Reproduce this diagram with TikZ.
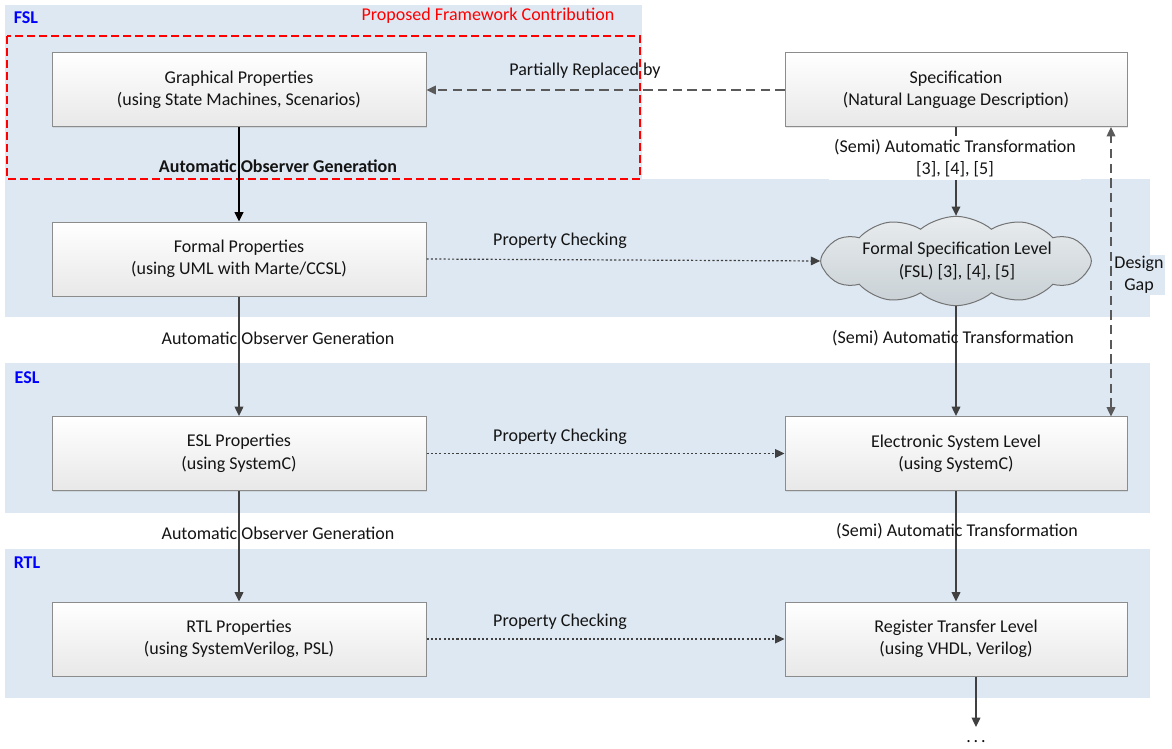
\documentclass[tikz,border=0pt]{standalone}
\usepackage{fontspec}
\setmainfont{Carlito}
\usetikzlibrary{arrows.meta,shapes.symbols,shadows}
\definecolor{bandc}{RGB}{222,232,242}
\definecolor{linec}{RGB}{64,64,64}
\definecolor{boxborder}{RGB}{140,140,140}
\definecolor{dashc}{RGB}{90,90,90}
\definecolor{cloudtop}{RGB}{232,236,238}
\definecolor{cloudbot}{RGB}{200,208,213}
\definecolor{txt}{RGB}{20,20,20}
\newcommand\myfs{\fontsize{13.5}{16.8}\selectfont}
\tikzset{
  band/.style={fill=bandc, draw=none},
  lvl/.style={text=blue, font=\myfs\bfseries, anchor=center},
  pbox/.style={draw=boxborder, line width=0.75pt, top color=white, bottom color=black!9,
     minimum height=55.5pt, inner sep=0pt, align=center, text=txt,
     font=\myfs, drop shadow={opacity=0.18, shadow xshift=1pt, shadow yshift=-1pt}},
  lbox/.style={pbox, minimum width=280.5pt},
  rbox/.style={pbox, minimum width=256.5pt},
  cloudn/.style={cloud, cloud puffs=12, cloud puff arc=80, cloud ignores aspect, draw=black!55, line width=0.75pt,
     top color=cloudtop, bottom color=cloudbot, minimum width=203pt, minimum height=67pt, inner sep=0pt},
  solidarr/.style={draw=linec, line width=1pt, -{Triangle[length=7pt,width=6.5pt]}},
  blackarr/.style={draw=black, line width=1.1pt, -{Triangle[length=7pt,width=6.5pt]}},
  dotarr/.style={draw=linec, line width=0.9pt, dash pattern=on 1.6pt off 1.6pt, -{Triangle[length=7pt,width=6.5pt]}},
  dasharr/.style={draw=dashc, line width=1pt, dash pattern=on 7pt off 4pt, -{Triangle[length=7pt,width=6.5pt]}},
  lab/.style={text=txt, inner sep=1pt, align=center, font=\myfs},
}
\begin{document}
\begin{tikzpicture}[x=0.75pt, y=-0.75pt, font=\myfs]
\useasboundingbox (0,0) rectangle (1172,749);
\fill[white] (0,0) rectangle (1172,749);
% bands
\fill[band] (5,5) rectangle (642,179);
\fill[band] (5,179) rectangle (1150,317);
\fill[band] (5,363) rectangle (1150,513);
\fill[band] (5,549) rectangle (1150,698);
\node[lvl] (lfsl) at (26,18) {FSL};
\node[lvl] (lesl) at (27,378) {ESL};
\node[lvl] (lrtl) at (27,563) {RTL};
% proposed framework
\draw[red, line width=1.1pt, dash pattern=on 6pt off 3pt] (7,36) rectangle (640,179);
\node[text=red, font=\myfs] (pfc) at (488,16) {Proposed Framework Contribution};
% boxes
\node[lbox] (gp) at (239,90) {Graphical Properties\\(using State Machines, Scenarios)};
\node[rbox] (spec) at (956,90) {Specification\\(Natural Language Description)};
\node[lbox] (fp) at (239,259) {Formal Properties\\(using UML with Marte/CCSL)};
\node[cloudn] (fsl) at (956,261) {};
\node[lab] (fsltext) at (957,261) {Formal Specification Level\\(FSL) [3], [4], [5]};
\node[lbox] (eslp) at (239,453.5) {ESL Properties\\(using SystemC)};
\node[rbox] (esl) at (956,453.5) {Electronic System Level\\(using SystemC)};
\node[lbox] (rtlp) at (239,639) {RTL Properties\\(using SystemVerilog, PSL)};
\node[rbox] (rtl) at (956,639) {Register Transfer Level\\(using VHDL, Verilog)};
% left column arrows
\draw[blackarr] (gp.south) -- (fp.north);
\node[lab, font=\myfs\bfseries] (l1) at (278,166) {Automatic Observer Generation};
\draw[solidarr] (fp.south) -- (eslp.north);
\node[lab] (l2) at (278,338) {Automatic Observer Generation};
\draw[solidarr] (eslp.south) -- (rtlp.north);
\node[lab] (l3) at (278,533) {Automatic Observer Generation};
% right column arrows
\draw[solidarr] (spec.south) -- (fsl.north);
\node[lab, fill=white, inner xsep=4pt, inner ysep=2pt, minimum width=186pt] (r1) at (955,158) {(Semi) Automatic Transformation\\{}[3], [4], [5]};
\draw[solidarr] (fsl.south) -- (esl.north);
\node[lab] (r2) at (953,338) {(Semi) Automatic Transformation};
\draw[solidarr] (esl.south) -- (rtl.north);
\node[lab] (r3) at (957,531) {(Semi) Automatic Transformation};
\node[text=txt, inner sep=0pt] (dots) at (976,742) {.\hspace{2.2pt}.\hspace{2.2pt}.};
\coordinate (dtop) at (976,727);
\draw[solidarr] (rtl.south -| dtop) -- (dtop);
% property checking
\draw[dotarr] (fp.east) -- (fsl.west);
\node[lab] (p1) at (560,241) {Property Checking};
\draw[dotarr] (eslp.east) -- (esl.west);
\node[lab] (p2) at (560,437) {Property Checking};
\draw[dotarr] (rtlp.east) -- (rtl.west);
\node[lab] (p3) at (560,622) {Property Checking};
% partially replaced
\draw[dasharr] (spec.west) -- (gp.east);
\node[lab] (pr) at (585,71) {Partially Replaced by};
% design gap
\coordinate (dg1) at (1111,127);
\coordinate (dg2) at (1111,416.5);
\draw[dasharr, {Triangle[length=7pt,width=6.5pt]}-{Triangle[length=7pt,width=6.5pt]}] (dg2) -- (dg1);
\node[lab, fill=bandc] (dg) at (1139,275) {Design\\Gap};
\end{tikzpicture}
\end{document}
